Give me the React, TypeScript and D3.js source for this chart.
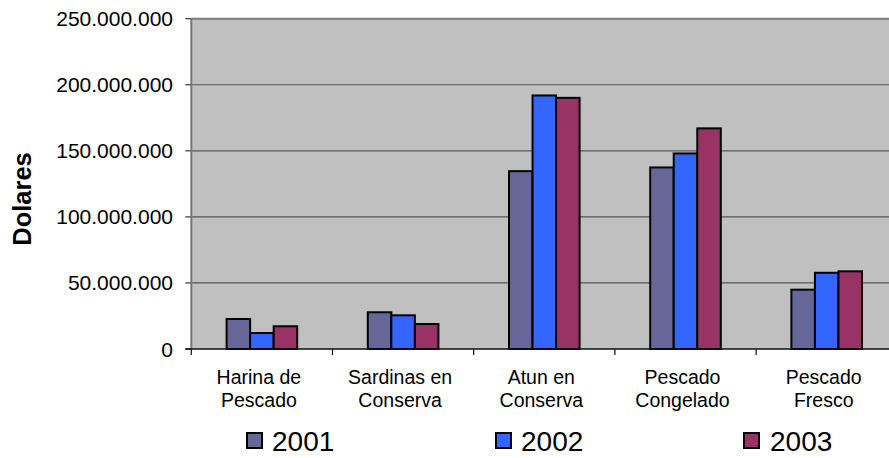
import React from "react";
import * as d3 from "d3";

const categories = [
  ["Harina de", "Pescado"],
  ["Sardinas en", "Conserva"],
  ["Atun en", "Conserva"],
  ["Pescado", "Congelado"],
  ["Pescado", "Fresco"],
];
const seriesNames = ["2001", "2002", "2003"];
const values2001 = [22700000, 27800000, 134600000, 137400000, 44900000];
const values2002 = [12100000, 25500000, 191900000, 148000000, 57700000];
const values2003 = [17200000, 18900000, 190100000, 167000000, 58800000];
const yTicks = [0, 50000000, 100000000, 150000000, 200000000, 250000000];
const colors = ["#666699", "#3366FF", "#993366"];

const W = 889;
const H = 458;
const left = 191.3;
const top = 18.7;
const bottom = 349;
const band = 141.2;

export default function App() {
  const series = [values2001, values2002, values2003];
  const x = d3
    .scaleBand<number>()
    .domain(categories.map((_, i) => i))
    .range([left, left + band * categories.length])
    .paddingInner(0)
    .paddingOuter(0);
  const xs = d3
    .scaleBand<number>()
    .domain(seriesNames.map((_, i) => i))
    .range([band * 0.25, band * 0.75]);
  const y = d3.scaleLinear().domain([0, 250000000]).range([bottom, top]);
  const fmt = (v: number) =>
    v === 0 ? "0" : d3.format(",")(v).replace(/,/g, ".");
  const legendPos = [
    { sq: 247, tx: 272 },
    { sq: 496, tx: 521 },
    { sq: 744, tx: 770 },
  ];
  return (
    <svg
      width={W}
      height={H}
      style={{ position: "absolute", left: 0, top: 0, background: "#fff" }}
      fontFamily="Arial, 'Liberation Sans', sans-serif"
    >
      <rect
        x={left}
        y={top}
        width={band * categories.length}
        height={bottom - top}
        fill="#C0C0C0"
      />
      {yTicks.map((t) => (
        <g key={t}>
          {t > 0 && (
            <line
              x1={left}
              x2={left + band * categories.length}
              y1={y(t)}
              y2={y(t)}
              stroke={t === 250000000 ? "#7a7a7a" : "#555"}
              strokeWidth={t === 250000000 ? 2 : 1.2}
            />
          )}
          <line x1={left - 6} x2={left} y1={y(t)} y2={y(t)} stroke="#333" strokeWidth={1.2} />
          <text
            x={173}
            y={y(t) + 7.5}
            textAnchor="end"
            fontSize={21}
            fill="#000"
          >
            {fmt(t)}
          </text>
        </g>
      ))}
      <line x1={left} x2={left} y1={top} y2={bottom} stroke="#777" strokeWidth={2} />
      {categories.map((c, i) => (
        <g key={i}>
          {series.map((s, j) => (
            <rect
              key={j}
              x={(x(i) as number) + (xs(j) as number)}
              y={y(s[i])}
              width={xs.bandwidth()}
              height={bottom - y(s[i])}
              fill={colors[j]}
              stroke="#000"
              strokeWidth={2}
            />
          ))}
        </g>
      ))}
      <line
        x1={left - 6}
        x2={left + band * categories.length}
        y1={bottom}
        y2={bottom}
        stroke="#111"
        strokeWidth={1.5}
      />
      {d3.range(categories.length + 1).map((i) => (
        <line
          key={i}
          x1={left + i * band}
          x2={left + i * band}
          y1={bottom}
          y2={bottom + 6}
          stroke="#111"
          strokeWidth={1.2}
        />
      ))}
      {categories.map((c, i) => {
        const cx = (x(i) as number) + band / 2 - 3;
        return (
          <text key={i} textAnchor="middle" fontSize={19.5} fill="#000">
            <tspan x={cx} y={384}>
              {c[0]}
            </tspan>
            <tspan x={cx} y={407}>
              {c[1]}
            </tspan>
          </text>
        );
      })}
      <text
        transform="translate(31,199) rotate(-90)"
        textAnchor="middle"
        fontSize={25.5}
        fontWeight="bold"
        fill="#000"
      >
        Dolares
      </text>
      {seriesNames.map((n, j) => (
        <g key={n}>
          <rect
            x={legendPos[j].sq}
            y={433}
            width={15}
            height={15}
            fill={colors[j]}
            stroke="#000"
            strokeWidth={2}
          />
          <text x={legendPos[j].tx} y={451} fontSize={28} fill="#000">
            {n}
          </text>
        </g>
      ))}
    </svg>
  );
}
